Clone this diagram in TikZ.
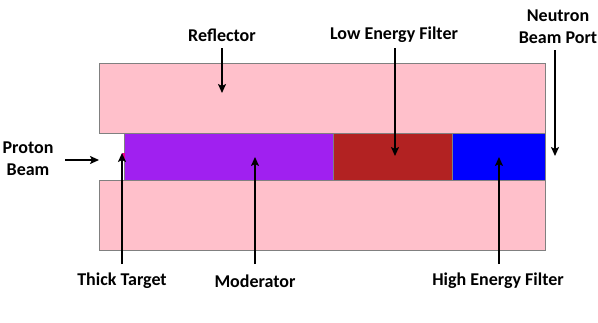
\documentclass[tikz,border=0pt]{standalone}
\usepackage{fontspec}
\setmainfont{Carlito}
\usetikzlibrary{arrows.meta}
\definecolor{pinkR}{RGB}{255,192,203}
\definecolor{purpM}{RGB}{160,32,240}
\definecolor{redF}{RGB}{178,34,34}
\definecolor{blueF}{RGB}{0,0,255}
\definecolor{edgeG}{RGB}{128,128,128}
\begin{document}
\begin{tikzpicture}[x=1pt,y=-1pt,
  lbl/.style={font=\bfseries\fontsize{18}{22}\selectfont, align=center, inner sep=1pt},
  arr/.style={line width=1.9pt, -{Stealth[length=9pt,width=8pt,inset=2pt]}},
  blk/.style={draw=edgeG, line width=0.5pt}]
\useasboundingbox (0,0) rectangle (598,322);
% reflector
\fill[pinkR, blk] (99,63) rectangle (545,250);
\fill[white] (98,133) rectangle (124,180);
\draw[edgeG, line width=0.5pt] (99,133) -- (124,133) (99,180) -- (124,180);
\node[blk, fill=purpM, minimum width=209pt, minimum height=47pt, inner sep=0pt, anchor=north west] (mod) at (124,133) {};
\node[blk, fill=redF, minimum width=119pt, minimum height=47pt, inner sep=0pt, anchor=north west] (lef) at (333,133) {};
\node[blk, fill=blueF, minimum width=93pt, minimum height=47pt, inner sep=0pt, anchor=north west] (hef) at (452,133) {};
\node[fill=magenta, minimum width=3pt, minimum height=7pt, inner sep=0pt] (tgt) at (123,156) {};
% labels
\node[lbl] (refl) at (222,35) {Reflector};
\node[lbl] (lefl) at (394,35) {Low Energy Filter};
\node[lbl] (nbp) at (558,27) {Neutron\\Beam Port};
\node[lbl] (pb) at (28,159) {Proton\\Beam};
\node[lbl] (ttl) at (122,281) {Thick Target};
\node[lbl] (modl) at (255,281) {Moderator};
\node[lbl] (hefl) at (498,281) {High Energy Filter};
% arrow ends
\coordinate (reflE) at (222,93);
\coordinate (lefE) at (395,156);
\coordinate (nbpE) at (555,156);
\coordinate (pbE) at (99,160);
\coordinate (ttE) at (122,153);
\coordinate (modE) at (255,157);
\coordinate (hefE) at (499,157);
\draw[arr] (222,48) coordinate (a1) -- (reflE);
\draw[arr] (395,48) coordinate (a2) -- (lefE);
\draw[arr] (555,50) coordinate (a3) -- (nbpE);
\draw[arr] (65,160) coordinate (a4) -- (pbE);
\draw[arr] (122,264) coordinate (a5) -- (ttE);
\draw[arr] (255,264) coordinate (a6) -- (modE);
\draw[arr] (499,264) coordinate (a7) -- (hefE);
\end{tikzpicture}
\end{document}
